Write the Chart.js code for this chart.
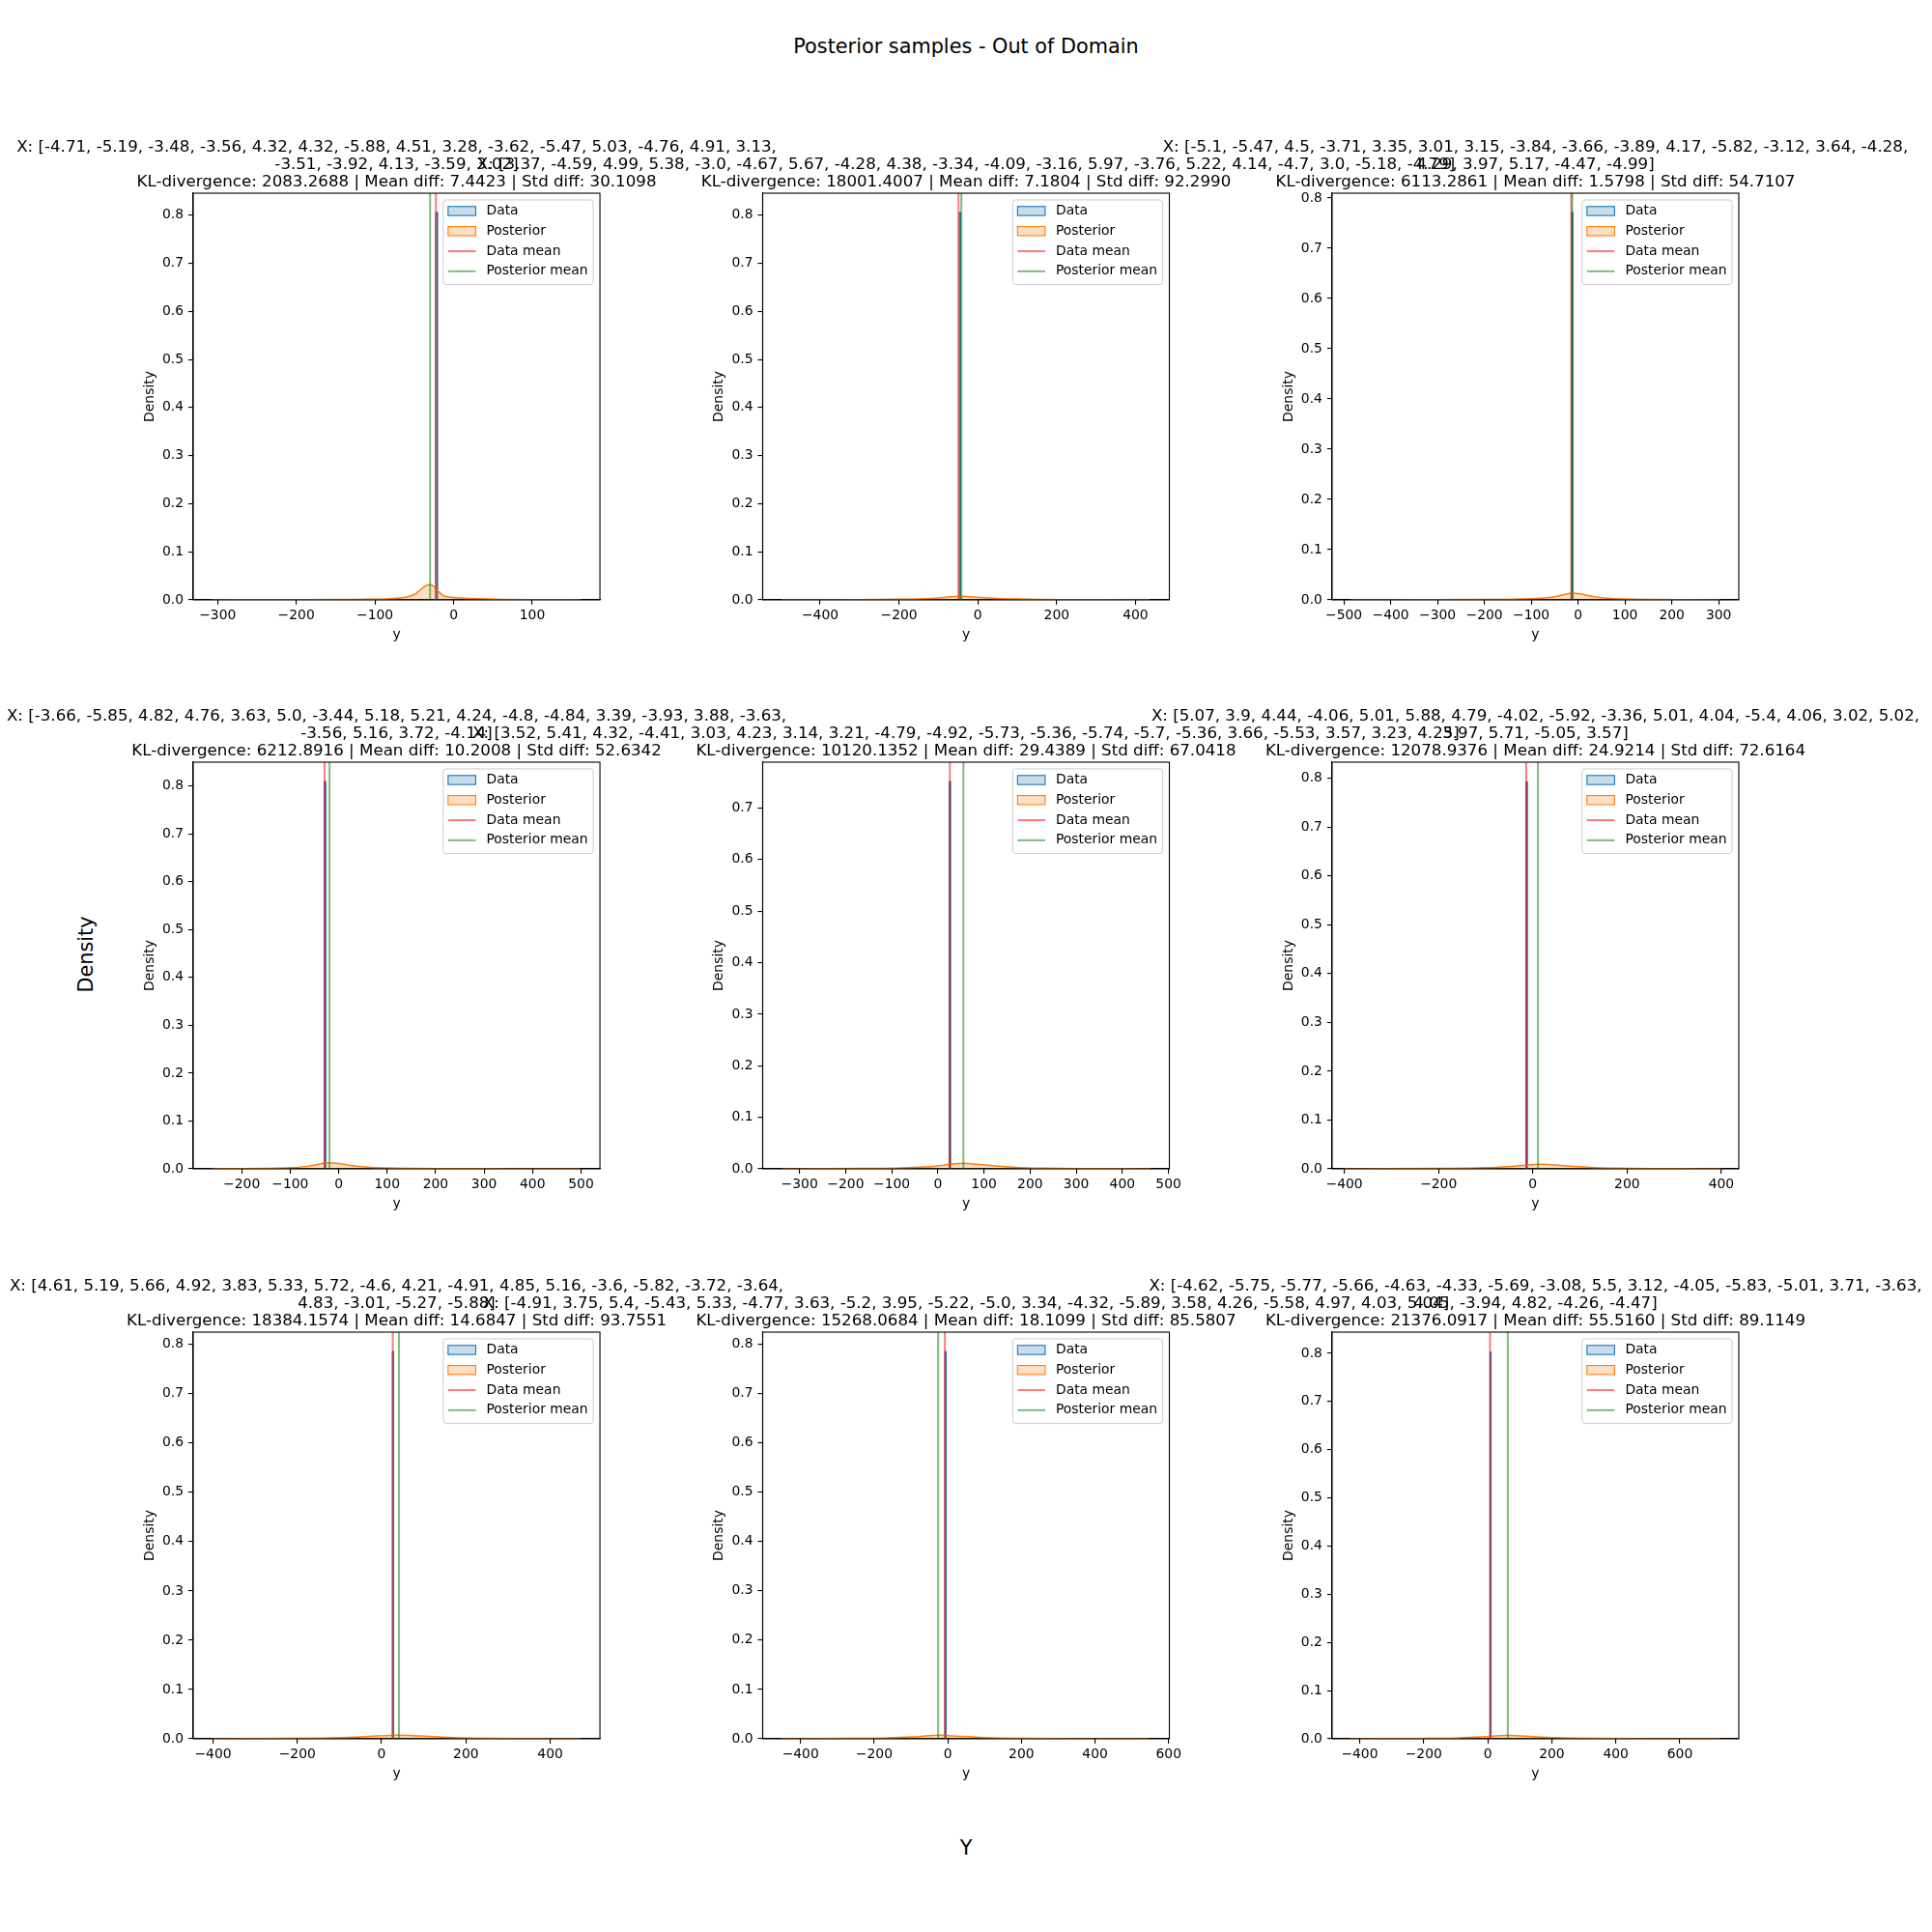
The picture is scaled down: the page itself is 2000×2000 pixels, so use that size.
<!DOCTYPE html>
<html>
<head>
<meta charset="utf-8">
<title>Posterior samples - Out of Domain</title>
<script src="https://cdn.jsdelivr.net/npm/chart.js@4.4.1/dist/chart.umd.min.js"></script>
<style>
  html, body { margin: 0; padding: 0; background: #fff; }
  body { width: 2000px; height: 2000px; position: relative; overflow: hidden; font-family: 'DejaVu Sans', sans-serif; }
  canvas { position: absolute; left: 0; }
  .fig-text { position: absolute; font-size: 20.8px; color: #000; white-space: nowrap; transform: translate(-50%, -50%); }
</style>
</head>
<body>
<div class="fig-text" style="left:1000px;top:48px">Posterior samples - Out of Domain</div>
<div class="fig-text" style="left:1000px;top:1913px">Y</div>
<div class="fig-text" style="left:89px;top:988px;transform:translate(-50%,-50%) rotate(-90deg)">Density</div>
<script>
// inputs printed in each subplot title (already wrapped as in the figure)
const xInputLines = [
  ['X: [-4.71, -5.19, -3.48, -3.56, 4.32, 4.32, -5.88, 4.51, 3.28, -3.62, -5.47, 5.03, -4.76, 4.91, 3.13,', '-3.51, -3.92, 4.13, -3.59, 3.02]'],
  ['X: [3.37, -4.59, 4.99, 5.38, -3.0, -4.67, 5.67, -4.28, 4.38, -3.34, -4.09, -3.16, 5.97, -3.76, 5.22, 4.14, -4.7, 3.0, -5.18, -4.79]'],
  ['X: [-5.1, -5.47, 4.5, -3.71, 3.35, 3.01, 3.15, -3.84, -3.66, -3.89, 4.17, -5.82, -3.12, 3.64, -4.28,', '4.29, 3.97, 5.17, -4.47, -4.99]'],
  ['X: [-3.66, -5.85, 4.82, 4.76, 3.63, 5.0, -3.44, 5.18, 5.21, 4.24, -4.8, -4.84, 3.39, -3.93, 3.88, -3.63,', '-3.56, 5.16, 3.72, -4.14]'],
  ['X: [3.52, 5.41, 4.32, -4.41, 3.03, 4.23, 3.14, 3.21, -4.79, -4.92, -5.73, -5.36, -5.74, -5.7, -5.36, 3.66, -5.53, 3.57, 3.23, 4.25]'],
  ['X: [5.07, 3.9, 4.44, -4.06, 5.01, 5.88, 4.79, -4.02, -5.92, -3.36, 5.01, 4.04, -5.4, 4.06, 3.02, 5.02,', '3.97, 5.71, -5.05, 3.57]'],
  ['X: [4.61, 5.19, 5.66, 4.92, 3.83, 5.33, 5.72, -4.6, 4.21, -4.91, 4.85, 5.16, -3.6, -5.82, -3.72, -3.64,', '4.83, -3.01, -5.27, -5.88]'],
  ['X: [-4.91, 3.75, 5.4, -5.43, 5.33, -4.77, 3.63, -5.2, 3.95, -5.22, -5.0, 3.34, -4.32, -5.89, 3.58, 4.26, -5.58, 4.97, 4.03, 5.04]'],
  ['X: [-4.62, -5.75, -5.77, -5.66, -4.63, -4.33, -5.69, -3.08, 5.5, 3.12, -4.05, -5.83, -5.01, 3.71, -3.63,', '4.05, -3.94, 4.82, -4.26, -4.47]']
];
const klDivergence = [2083.2688, 18001.4007, 6113.2861, 6212.8916, 10120.1352, 12078.9376, 18384.1574, 15268.0684, 21376.0917];
const meanDiff = [7.4423, 7.1804, 1.5798, 10.2008, 29.4389, 24.9214, 14.6847, 18.1099, 55.5160];
const stdDiff = [30.1098, 92.2990, 54.7107, 52.6342, 67.0418, 72.6164, 93.7551, 85.5807, 89.1149];

// vertical mean lines
const dataMean = [-22.5, -48.9, -14.4, -29.0, 26.0, -14.0, 26.4, -8.0, 7.3];
const posteriorMean = [-29.9, -41.7, -12.8, -18.8, 55.4, 10.9, 41.1, -26.1, 62.8];

// data histogram: the single tall bin (edges, density)
const histEdges = [[-22.8, -20.6], [-47.0, -44.0], [-13.8, -11.5], [-29.5, -27.0], [24.5, 27.0], [-14.5, -12.0], [25.5, 28.5], [-8.0, -5.0], [7.0, 10.5]];
const histDensity = [0.806, 0.806, 0.772, 0.810, 0.752, 0.793, 0.786, 0.785, 0.803];

// posterior KDE curves
const kdeX = [
  [-308, -200, -120, -80, -60, -50, -45, -40, -35, -30, -25, -20, -15, -10, 0, 10, 30, 60, 100, 162],
  [-497, -400, -300, -200, -150, -100, -75, -48, -20, 0, 50, 100, 150, 200, 300, 436],
  [-485, -400, -300, -200, -120, -80, -50, -30, -12, 5, 25, 50, 80, 150, 220, 303],
  [-262, -200, -150, -100, -70, -45, -22, 0, 25, 60, 100, 150, 200, 300, 400, 500],
  [-338, -250, -150, -80, -30, 0, 25, 55, 85, 120, 170, 230, 300, 380, 462],
  [-402, -300, -200, -120, -70, -30, 0, 18, 40, 75, 120, 180, 250, 320, 400],
  [-403, -300, -200, -120, -60, -10, 20, 40, 65, 110, 170, 240, 320, 400, 474],
  [-453, -350, -250, -160, -100, -60, -40, -25, 0, 40, 100, 180, 280, 400, 547],
  [-429, -300, -200, -100, -40, 0, 35, 61, 90, 140, 210, 300, 420, 560, 727]
];
const kdeY = [
  [0.0002, 0.0005, 0.0012, 0.0025, 0.006, 0.011, 0.017, 0.024, 0.030, 0.0316, 0.028, 0.019, 0.011, 0.007, 0.005, 0.004, 0.0025, 0.0012, 0.0006, 0.0002],
  [0.0001, 0.0002, 0.0005, 0.0013, 0.0022, 0.0042, 0.0062, 0.0074, 0.0066, 0.0055, 0.0032, 0.0018, 0.0010, 0.0006, 0.0003, 0.0001],
  [0.0001, 0.0002, 0.0004, 0.0008, 0.0018, 0.0032, 0.0062, 0.0105, 0.0135, 0.0118, 0.0078, 0.0042, 0.0022, 0.0008, 0.0003, 0.0001],
  [0.0002, 0.0005, 0.0010, 0.0024, 0.0048, 0.0088, 0.0128, 0.0112, 0.0072, 0.0036, 0.0019, 0.0010, 0.0006, 0.0003, 0.0002, 0.0001],
  [0.0001, 0.0003, 0.0008, 0.0018, 0.0036, 0.0058, 0.0088, 0.0108, 0.0090, 0.0060, 0.0030, 0.0014, 0.0006, 0.0003, 0.0001],
  [0.0001, 0.0003, 0.0008, 0.0018, 0.0036, 0.0062, 0.0085, 0.0095, 0.0085, 0.0058, 0.0032, 0.0014, 0.0006, 0.0003, 0.0001],
  [0.0001, 0.0003, 0.0008, 0.0018, 0.0036, 0.0058, 0.0070, 0.0074, 0.0068, 0.0048, 0.0026, 0.0012, 0.0005, 0.0002, 0.0001],
  [0.0001, 0.0003, 0.0008, 0.0019, 0.0038, 0.0058, 0.0068, 0.0072, 0.0066, 0.0048, 0.0026, 0.0011, 0.0004, 0.0002, 0.0001],
  [0.0001, 0.0003, 0.0007, 0.0017, 0.0033, 0.0048, 0.0063, 0.0069, 0.0064, 0.0046, 0.0024, 0.0010, 0.0004, 0.0002, 0.0001]
];

// axis limits and ticks
const xLimits = [[-331, 186], [-546, 486], [-525, 343], [-300, 539], [-380, 502], [-426, 437], [-447, 518], [-503, 602], [-486, 784]];
const yTop = [0.8456, 0.8456, 0.8096, 0.850, 0.789, 0.833, 0.825, 0.824, 0.844];
const xTicks = [
  [-300, -200, -100, 0, 100],
  [-400, -200, 0, 200, 400],
  [-500, -400, -300, -200, -100, 0, 100, 200, 300],
  [-200, -100, 0, 100, 200, 300, 400, 500],
  [-300, -200, -100, 0, 100, 200, 300, 400, 500],
  [-400, -200, 0, 200, 400],
  [-400, -200, 0, 200, 400],
  [-400, -200, 0, 200, 400, 600],
  [-400, -200, 0, 200, 400, 600]
];
const yTicksFull = [0, 0.1, 0.2, 0.3, 0.4, 0.5, 0.6, 0.7, 0.8];
const yTicksShort = [0, 0.1, 0.2, 0.3, 0.4, 0.5, 0.6, 0.7];

// grid geometry (matplotlib subplots, left/bottom .1, right/top .9, spacing .4)
const COLS = [200, 789.47, 1378.95];
const ROWS = [200, 789.47, 1378.95];
const SIZE = 421.05;
const TOP_M = 80, BOT_M = 60, Y_W = 53.3, X_H = 44.3;
const TICK_FONT = 13.9, TITLE_FONT = 16.67;

Chart.defaults.font.family = "'DejaVu Sans', sans-serif";
Chart.defaults.color = '#000';

const fmtMinus = v => (v < 0 ? '\u2212' + Math.abs(v) : String(v));

// spines, legend box and subplot title drawn matplotlib-style
const mplDecor = {
  id: 'mplDecor',
  afterDraw(chart, args, opts) {
    const { ctx, chartArea: a } = chart;
    ctx.save();
    ctx.strokeStyle = '#000';
    ctx.lineWidth = 1.1;
    ctx.strokeRect(a.left, a.top, a.right - a.left, a.bottom - a.top);

    // legend
    const fs = TICK_FONT;
    ctx.font = fs + "px 'DejaVu Sans'";
    const ds = chart.data.datasets;
    const tw = Math.max(...ds.map(d => ctx.measureText(d.label).width));
    const w = 5.56 + 27.8 + 11.12 + tw + 5.56;
    const h = 87.6;
    const x0 = a.right - 6.95 - w, y0 = a.top + 6.95;
    ctx.beginPath();
    ctx.roundRect(x0, y0, w, h, 3);
    ctx.fillStyle = 'rgba(255,255,255,0.8)';
    ctx.fill();
    ctx.strokeStyle = '#cccccc';
    ctx.lineWidth = 1;
    ctx.stroke();
    ['Data', 'Posterior', 'Data mean', 'Posterior mean'].forEach((lab, r) => {
      const d = ds.find(s => s.label === lab);
      const cy = y0 + 11.5 + r * 20.8;
      if (d.fill) {
        ctx.fillStyle = d.backgroundColor;
        ctx.fillRect(x0 + 5, cy - 4.7, 28.6, 9.4);
        ctx.strokeStyle = d.borderColor;
        ctx.lineWidth = 1.1;
        ctx.strokeRect(x0 + 5, cy - 4.7, 28.6, 9.4);
      } else {
        ctx.beginPath();
        ctx.moveTo(x0 + 5, cy);
        ctx.lineTo(x0 + 33.6, cy);
        ctx.strokeStyle = d.borderColor;
        ctx.lineWidth = 2.08;
        ctx.stroke();
      }
      ctx.fillStyle = '#000';
      ctx.textAlign = 'left';
      ctx.textBaseline = 'middle';
      ctx.fillText(lab, x0 + 44.6, cy);
    });

    // title, last line sits just above the axes
    ctx.font = TITLE_FONT + "px 'DejaVu Sans'";
    ctx.fillStyle = '#000';
    ctx.textAlign = 'center';
    ctx.textBaseline = 'alphabetic';
    const cx = (a.left + a.right) / 2;
    const lines = opts.lines;
    lines.forEach((t, k) => {
      const y = a.top - 7.5 - (lines.length - 1 - k) * 17.9;
      ctx.fillText(t, cx, y);
    });
    ctx.restore();
  }
};

for (let i = 0; i < 9; i++) {
  const left = COLS[i % 3];
  const top = ROWS[Math.floor(i / 3)];
  const canvas = document.createElement('canvas');
  canvas.width = 2000;
  canvas.height = TOP_M + SIZE + BOT_M;
  canvas.style.top = (top - TOP_M) + 'px';
  canvas.style.width = '2000px';
  canvas.style.height = canvas.height + 'px';
  document.body.appendChild(canvas);

  const [e0, e1] = histEdges[i];
  const histPts = [{ x: e0, y: 0 }, { x: e0, y: histDensity[i] }, { x: e1, y: histDensity[i] }, { x: e1, y: 0 }];
  const kdePts = kdeX[i].map((x, k) => ({ x, y: kdeY[i][k] }));
  const yTicks = yTop[i] < 0.8 ? yTicksShort : yTicksFull;
  const titleLines = xInputLines[i].concat([
    `KL-divergence: ${klDivergence[i].toFixed(4)} | Mean diff: ${meanDiff[i].toFixed(4)} | Std diff: ${stdDiff[i].toFixed(4)}`
  ]);

  new Chart(canvas, {
    type: 'line',
    data: {
      datasets: [
        { label: 'Data', data: histPts, borderColor: '#1f77b4', borderWidth: 1, backgroundColor: 'rgba(31,119,180,0.25)', fill: 'origin', pointRadius: 0, tension: 0, order: 4 },
        { label: 'Posterior', data: kdePts, borderColor: '#ff7f0e', borderWidth: 1.5, backgroundColor: 'rgba(255,127,14,0.25)', fill: 'origin', pointRadius: 0, cubicInterpolationMode: 'monotone', order: 3 },
        { label: 'Data mean', data: [{ x: dataMean[i], y: 0 }, { x: dataMean[i], y: yTop[i] }], borderColor: 'rgba(255,0,0,0.5)', borderWidth: 2.08, pointRadius: 0, fill: false, order: 2 },
        { label: 'Posterior mean', data: [{ x: posteriorMean[i], y: 0 }, { x: posteriorMean[i], y: yTop[i] }], borderColor: 'rgba(0,128,0,0.5)', borderWidth: 2.08, pointRadius: 0, fill: false, order: 1 }
      ]
    },
    options: {
      responsive: false,
      animation: false,
      devicePixelRatio: 1,
      events: [],
      layout: { padding: { left: left - Y_W, right: 2000 - left - SIZE, top: TOP_M, bottom: BOT_M - X_H } },
      plugins: {
        legend: { display: false },
        tooltip: { enabled: false },
        mplDecor: { lines: titleLines }
      },
      scales: {
        x: {
          type: 'linear',
          min: xLimits[i][0],
          max: xLimits[i][1],
          bounds: 'data',
          afterBuildTicks: s => { s.ticks = xTicks[i].map(v => ({ value: v })); },
          afterFit: s => { s.height = X_H; },
          ticks: { autoSkip: false, maxRotation: 0, minRotation: 0, padding: 3, color: '#000', font: { size: TICK_FONT }, callback: v => fmtMinus(v) },
          grid: { display: true, drawOnChartArea: false, drawTicks: true, tickLength: 5, color: '#000', lineWidth: 1.1 },
          border: { display: true, color: '#000', width: 1.1 },
          title: { display: true, text: 'y', color: '#000', font: { size: TICK_FONT }, padding: 0 }
        },
        y: {
          type: 'linear',
          min: 0,
          max: yTop[i],
          bounds: 'data',
          afterBuildTicks: s => { s.ticks = yTicks.map(v => ({ value: v })); },
          afterFit: s => { s.width = Y_W; },
          ticks: { autoSkip: false, padding: 5, color: '#000', font: { size: TICK_FONT }, callback: v => v.toFixed(1) },
          grid: { display: true, drawOnChartArea: false, drawTicks: true, tickLength: 5, color: '#000', lineWidth: 1.1 },
          border: { display: true, color: '#000', width: 1.1 },
          title: { display: true, text: 'Density', color: '#000', font: { size: TICK_FONT }, padding: 0 }
        }
      }
    },
    plugins: [mplDecor]
  });
}
</script>
</body>
</html>
